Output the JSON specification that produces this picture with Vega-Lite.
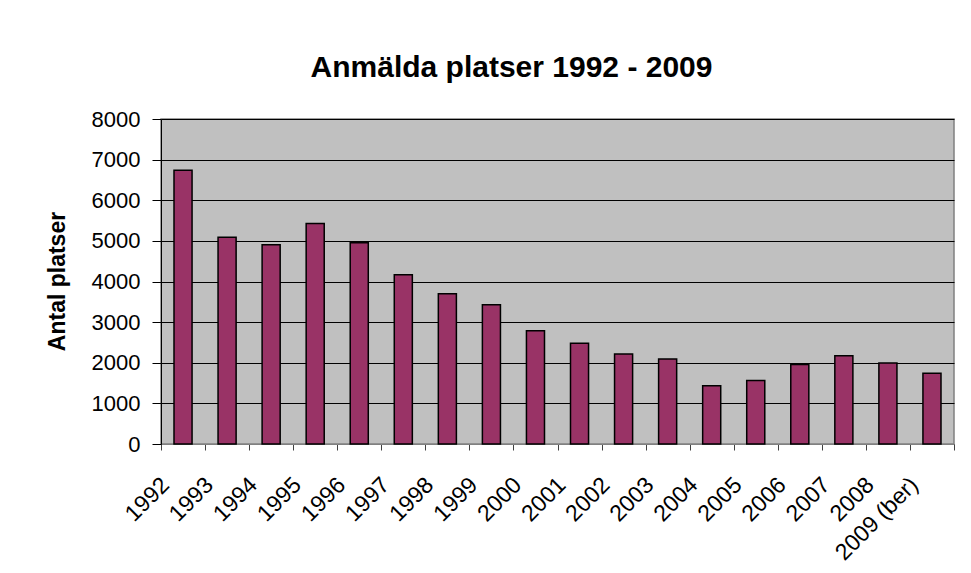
{
  "$schema": "https://vega.github.io/schema/vega-lite/v6.json",
  "autosize": "none",
  "width": 793,
  "height": 325,
  "padding": {"left": 161, "top": 119, "right": 17, "bottom": 129},
  "background": "white",
  "title": {
    "text": "Anmälda platser 1992 - 2009",
    "font": "Liberation Sans",
    "fontSize": 30,
    "fontWeight": "bold",
    "color": "black",
    "anchor": "middle",
    "dx": -46,
    "offset": 25
  },
  "data": {
    "values": [
      {"year": "1992", "platser": 6740},
      {"year": "1993", "platser": 5090},
      {"year": "1994", "platser": 4905},
      {"year": "1995", "platser": 5430},
      {"year": "1996", "platser": 4955},
      {"year": "1997", "platser": 4165},
      {"year": "1998", "platser": 3700},
      {"year": "1999", "platser": 3430},
      {"year": "2000", "platser": 2790},
      {"year": "2001", "platser": 2480},
      {"year": "2002", "platser": 2215},
      {"year": "2003", "platser": 2090},
      {"year": "2004", "platser": 1435},
      {"year": "2005", "platser": 1565},
      {"year": "2006", "platser": 1960},
      {"year": "2007", "platser": 2175},
      {"year": "2008", "platser": 1995},
      {"year": "2009 (ber)", "platser": 1740}
    ]
  },
  "mark": {
    "type": "bar",
    "color": "#993366",
    "stroke": "black",
    "strokeWidth": 1.5,
    "width": {"band": 0.41}
  },
  "encoding": {
    "x": {
      "field": "year",
      "type": "nominal",
      "sort": null,
      "scale": {"paddingInner": 0, "paddingOuter": 0},
      "axis": {
        "title": null,
        "labelAngle": -45,
        "labelAlign": "right",
        "labelBaseline": "middle",
        "labelFont": "Liberation Sans",
        "labelFontSize": 23,
        "labelColor": "black",
        "labelOffset": -18,
        "labelPadding": 31,
        "tickSize": 6,
        "tickBand": "extent",
        "tickColor": "#404040",
        "domainColor": "#808080",
        "grid": false
      }
    },
    "y": {
      "field": "platser",
      "type": "quantitative",
      "scale": {"domain": [0, 8000]},
      "axis": {
        "title": "Antal platser",
        "titleFont": "Liberation Sans",
        "titleFontSize": 23,
        "titleFontWeight": "bold",
        "titleColor": "black",
        "titleAngle": -90,
        "titleAlign": "center",
        "titleBaseline": "middle",
        "titleX": -104,
        "titleY": 162,
        "values": [0, 1000, 2000, 3000, 4000, 5000, 6000, 7000, 8000],
        "format": "d",
        "labelFont": "Liberation Sans",
        "labelFontSize": 22,
        "labelColor": "black",
        "labelPadding": 12,
        "tickSize": 9,
        "tickColor": "black",
        "domainColor": "black",
        "grid": true,
        "gridColor": "black",
        "gridWidth": 1,
        "gridOpacity": 1
      }
    }
  },
  "config": {
    "view": {"fill": "#C0C0C0", "stroke": "#808080", "strokeWidth": 1.5}
  }
}
